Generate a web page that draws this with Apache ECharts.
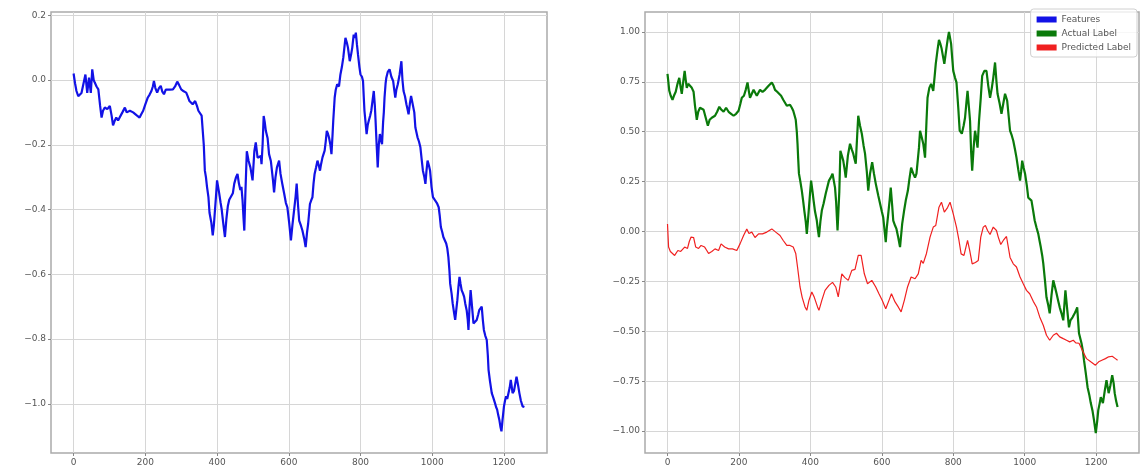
<!DOCTYPE html>
<html>
<head>
<meta charset="utf-8">
<title>Features vs Labels</title>
<script src="https://cdn.jsdelivr.net/npm/echarts@6/dist/echarts.min.js"></script>
<style>
  html, body { margin: 0; padding: 0; background: #ffffff; }
  #chart { width: 1145px; height: 474px; }
</style>
</head>
<body>
<div id="chart"></div>
<script>
// ---- Data ----------------------------------------------------------------
// Features (left panel): sample index and value
const featuresIdx = [0,4,8,13,18,22,27,33,38,43,48,52,56,59,64,69,74,78,82,87,94,101,106,110,115,119,124,129,136,143,148,152,157,161,166,170,177,184,189,194,200,207,212,217,221,224,228,233,238,243,247,252,257,261,268,277,283,289,294,300,307,314,318,323,328,332,336,339,344,348,353,357,360,363,366,369,372,376,379,384,388,391,393,397,400,403,406,410,413,417,422,426,430,434,439,444,448,453,457,461,465,468,471,474,476,479,483,488,493,496,499,504,508,513,518,522,524,527,530,533,536,541,545,550,552,556,559,563,567,573,577,582,587,592,596,601,606,610,615,619,622,626,629,634,638,643,647,651,654,659,663,666,669,672,676,680,684,687,690,694,700,703,706,709,712,716,719,722,724,728,731,735,740,744,748,752,755,758,762,765,768,770,774,777,781,784,787,790,793,797,800,804,807,809,811,814,817,820,823,827,830,834,837,840,842,845,848,851,854,857,860,863,865,867,870,872,876,881,886,891,894,897,900,904,909,914,917,920,924,928,931,934,938,941,946,950,953,959,963,967,971,974,978,981,984,987,991,994,998,1002,1008,1013,1018,1021,1024,1028,1031,1035,1039,1042,1045,1048,1050,1054,1057,1061,1064,1067,1070,1073,1076,1079,1082,1086,1089,1092,1096,1099,1101,1104,1107,1111,1115,1119,1124,1128,1131,1135,1138,1141,1144,1148,1152,1155,1157,1161,1166,1170,1175,1178,1181,1184,1187,1190,1193,1196,1200,1203,1206,1209,1212,1216,1219,1222,1224,1228,1231,1235,1239,1243,1247,1252,1257];
const featuresVal = [0.02,-0.01,-0.034,-0.05,-0.054,-0.04,-0.034,0.017,-0.04,0.007,-0.04,0.033,0.0,-0.008,-0.02,-0.029,-0.08,-0.116,-0.095,-0.085,-0.09,-0.08,-0.11,-0.14,-0.125,-0.116,-0.125,-0.121,-0.1,-0.085,-0.1,-0.106,-0.095,-0.09,-0.1,-0.106,-0.11,-0.116,-0.105,-0.095,-0.075,-0.054,-0.045,-0.034,-0.02,-0.003,-0.025,-0.039,-0.025,-0.018,-0.035,-0.044,-0.03,-0.024,-0.03,-0.029,-0.02,-0.005,-0.015,-0.029,-0.035,-0.039,-0.05,-0.065,-0.07,-0.075,-0.07,-0.065,-0.08,-0.095,-0.1,-0.11,-0.116,-0.2,-0.28,-0.30,-0.33,-0.362,-0.41,-0.44,-0.48,-0.45,-0.42,-0.36,-0.31,-0.33,-0.35,-0.38,-0.40,-0.44,-0.485,-0.43,-0.39,-0.37,-0.37,-0.35,-0.32,-0.30,-0.29,-0.32,-0.34,-0.33,-0.37,-0.43,-0.465,-0.35,-0.22,-0.25,-0.27,-0.29,-0.31,-0.22,-0.193,-0.24,-0.239,-0.235,-0.26,-0.2,-0.111,-0.13,-0.157,-0.18,-0.229,-0.25,-0.27,-0.31,-0.347,-0.3,-0.27,-0.249,-0.29,-0.321,-0.35,-0.38,-0.393,-0.44,-0.495,-0.45,-0.40,-0.36,-0.32,-0.39,-0.434,-0.45,-0.465,-0.49,-0.516,-0.47,-0.444,-0.383,-0.37,-0.362,-0.32,-0.29,-0.27,-0.249,-0.265,-0.28,-0.26,-0.239,-0.218,-0.19,-0.157,-0.165,-0.177,-0.2,-0.229,-0.17,-0.126,-0.054,-0.03,-0.013,-0.02,0.017,0.04,0.069,0.1,0.13,0.115,0.10,0.075,0.058,0.08,0.10,0.14,0.13,0.146,0.11,0.079,0.04,0.017,0.01,-0.003,-0.05,-0.095,-0.13,-0.167,-0.14,-0.126,-0.11,-0.095,-0.06,-0.034,-0.08,-0.126,-0.2,-0.27,-0.2,-0.167,-0.185,-0.198,-0.13,-0.10,-0.054,-0.01,0.007,0.025,0.033,0.01,-0.003,-0.03,-0.054,-0.03,-0.013,0.017,0.058,0.0,-0.034,-0.05,-0.075,-0.09,-0.106,-0.07,-0.049,-0.044,-0.1,-0.147,-0.177,-0.19,-0.208,-0.25,-0.28,-0.30,-0.321,-0.28,-0.249,-0.265,-0.28,-0.33,-0.362,-0.372,-0.38,-0.393,-0.42,-0.454,-0.47,-0.485,-0.49,-0.505,-0.52,-0.547,-0.59,-0.629,-0.66,-0.69,-0.72,-0.741,-0.71,-0.68,-0.64,-0.608,-0.63,-0.649,-0.66,-0.67,-0.69,-0.711,-0.74,-0.772,-0.70,-0.649,-0.7,-0.752,-0.75,-0.741,-0.725,-0.711,-0.705,-0.70,-0.74,-0.772,-0.79,-0.803,-0.85,-0.895,-0.93,-0.967,-0.98,-0.998,-1.01,-1.018,-1.035,-1.049,-1.07,-1.085,-1.05,-1.008,-0.99,-0.977,-0.985,-0.988,-0.95,-0.926,-0.95,-0.967,-0.96,-0.957,-0.916,-0.94,-0.967,-0.99,-1.008,-1.01];

// Actual label (right panel, green)
const actualIdx = [0,5,9,14,18,23,28,33,37,40,44,48,51,54,58,63,68,73,77,82,86,91,96,101,107,113,118,124,128,133,139,145,151,157,164,171,178,185,192,199,204,208,214,219,224,228,231,236,241,246,250,255,259,266,273,278,283,288,292,297,301,307,312,318,324,329,334,338,343,348,352,356,359,362,364,366,368,372,376,380,383,387,390,393,396,399,402,406,409,413,418,421,424,428,432,437,443,446,452,457,462,466,469,472,476,478,481,484,488,492,496,499,505,511,516,520,524,527,531,534,539,544,549,553,558,562,567,573,578,583,590,595,600,604,608,611,614,618,622,625,629,632,637,641,646,651,654,657,662,667,673,677,682,688,693,697,700,704,707,712,716,721,725,728,733,738,744,748,751,756,760,764,767,771,775,778,781,785,788,791,794,797,800,805,809,814,818,821,824,829,833,837,840,844,847,850,853,857,861,865,868,872,877,881,887,893,898,903,908,912,917,921,924,930,935,940,945,951,955,959,964,968,973,977,982,987,990,993,997,1001,1006,1010,1015,1019,1024,1028,1033,1038,1042,1045,1049,1052,1057,1061,1066,1070,1075,1080,1085,1089,1094,1098,1103,1108,1111,1114,1119,1124,1128,1134,1140,1144,1147,1152,1159,1163,1166,1171,1176,1181,1185,1190,1194,1199,1203,1206,1210,1213,1219,1224,1229,1235,1240,1245,1249,1252,1256,1260];
const actualVal = [0.79,0.705,0.68,0.66,0.68,0.70,0.74,0.77,0.72,0.69,0.75,0.805,0.76,0.72,0.74,0.73,0.72,0.70,0.63,0.56,0.6,0.62,0.62,0.61,0.57,0.53,0.56,0.57,0.56,0.58,0.6,0.625,0.61,0.60,0.62,0.60,0.59,0.58,0.59,0.605,0.64,0.67,0.68,0.71,0.747,0.70,0.67,0.69,0.71,0.70,0.68,0.69,0.71,0.70,0.71,0.72,0.73,0.74,0.747,0.73,0.71,0.70,0.70,0.68,0.66,0.645,0.63,0.64,0.635,0.62,0.605,0.58,0.56,0.50,0.44,0.36,0.29,0.25,0.205,0.15,0.105,0.05,-0.012,0.05,0.12,0.19,0.255,0.2,0.155,0.1,0.055,0.01,-0.028,0.05,0.105,0.14,0.19,0.19,0.255,0.27,0.29,0.25,0.22,0.15,0.005,0.005,0.2,0.405,0.38,0.355,0.31,0.27,0.38,0.44,0.41,0.39,0.36,0.34,0.48,0.58,0.53,0.49,0.43,0.39,0.30,0.205,0.29,0.347,0.29,0.24,0.18,0.14,0.10,0.07,0.0,-0.053,0.02,0.088,0.16,0.22,0.13,0.055,0.03,0.013,-0.03,-0.078,-0.02,0.038,0.1,0.155,0.205,0.26,0.32,0.29,0.27,0.29,0.30,0.42,0.505,0.47,0.44,0.37,0.55,0.67,0.72,0.74,0.705,0.78,0.84,0.91,0.96,0.94,0.92,0.88,0.84,0.88,0.92,0.97,1.0,0.97,0.94,0.87,0.805,0.77,0.747,0.62,0.505,0.50,0.49,0.53,0.57,0.65,0.705,0.62,0.555,0.40,0.305,0.42,0.505,0.46,0.42,0.55,0.67,0.78,0.805,0.805,0.73,0.67,0.72,0.77,0.847,0.75,0.69,0.64,0.59,0.64,0.69,0.655,0.58,0.505,0.48,0.455,0.41,0.37,0.31,0.255,0.3,0.355,0.32,0.29,0.23,0.17,0.16,0.155,0.1,0.055,0.02,-0.012,-0.05,-0.078,-0.12,-0.16,-0.25,-0.33,-0.37,-0.41,-0.32,-0.245,-0.28,-0.31,-0.35,-0.38,-0.41,-0.445,-0.37,-0.295,-0.39,-0.48,-0.445,-0.43,-0.41,-0.395,-0.38,-0.51,-0.56,-0.6,-0.645,-0.71,-0.78,-0.82,-0.86,-0.9,-0.945,-1.01,-0.95,-0.895,-0.86,-0.83,-0.86,-0.8,-0.745,-0.81,-0.77,-0.72,-0.76,-0.81,-0.85,-0.88];

// Predicted label (right panel, red)
const predictedIdx = [0,3,8,12,20,29,37,48,56,61,66,73,79,87,94,104,110,115,124,133,143,150,160,171,182,194,203,213,222,228,236,245,255,266,278,285,292,303,315,324,334,343,352,359,364,371,377,385,390,396,404,411,420,424,432,441,452,462,471,478,488,496,506,516,525,534,542,551,560,572,583,592,601,611,620,627,637,646,654,663,672,682,693,702,710,716,725,735,744,751,760,767,775,784,791,800,809,816,822,830,840,846,853,862,870,877,884,890,896,903,912,917,921,926,933,940,949,959,968,977,987,996,1005,1014,1024,1033,1042,1052,1061,1070,1080,1089,1098,1108,1117,1126,1136,1143,1152,1164,1173,1185,1198,1207,1216,1226,1235,1245,1254,1260];
const predictedVal = [0.038,-0.078,-0.1,-0.11,-0.12,-0.095,-0.10,-0.078,-0.085,-0.05,-0.028,-0.03,-0.078,-0.085,-0.07,-0.078,-0.095,-0.11,-0.10,-0.087,-0.095,-0.062,-0.078,-0.087,-0.087,-0.095,-0.062,-0.02,0.013,-0.01,-0.003,-0.03,-0.012,-0.012,-0.003,0.005,0.013,-0.003,-0.02,-0.045,-0.07,-0.07,-0.078,-0.11,-0.178,-0.278,-0.33,-0.378,-0.395,-0.345,-0.303,-0.33,-0.378,-0.395,-0.345,-0.295,-0.27,-0.255,-0.278,-0.328,-0.212,-0.23,-0.245,-0.195,-0.19,-0.12,-0.12,-0.212,-0.262,-0.245,-0.278,-0.312,-0.345,-0.387,-0.345,-0.312,-0.353,-0.378,-0.403,-0.345,-0.278,-0.228,-0.237,-0.212,-0.145,-0.16,-0.11,-0.028,0.022,0.03,0.122,0.147,0.097,0.12,0.147,0.088,0.022,-0.045,-0.112,-0.12,-0.045,-0.095,-0.162,-0.155,-0.145,-0.028,0.022,0.03,0.005,-0.015,0.022,0.022,0.005,-0.028,-0.065,-0.045,-0.025,-0.13,-0.162,-0.178,-0.228,-0.262,-0.295,-0.312,-0.35,-0.378,-0.428,-0.47,-0.52,-0.545,-0.52,-0.51,-0.528,-0.537,-0.545,-0.553,-0.545,-0.558,-0.56,-0.605,-0.637,-0.653,-0.67,-0.653,-0.645,-0.637,-0.628,-0.625,-0.637,-0.645];

// Tick positions
const xTicks = [0, 200, 400, 600, 800, 1000, 1200];
const leftYTicks = [-1.0, -0.8, -0.6, -0.4, -0.2, 0.0, 0.2];
const rightYTicks = [-1.0, -0.75, -0.5, -0.25, 0.0, 0.25, 0.5, 0.75, 1.0];
const legendNames = ['Features', 'Actual Label', 'Predicted Label'];

// ---- Helpers -------------------------------------------------------------
const zip = (xs, ys) => xs.map((x, i) => [x, ys[i]]);
const minusSign = s => s.replace('-', '\u2212');

const labelStyle = { color: '#555', fontSize: 9, fontFamily: 'DejaVu Sans' };
const gridLine = { show: true, lineStyle: { color: '#d6d6d6', width: 1 } };
const tickStyle = { show: true, length: 3, lineStyle: { color: '#888' } };
// Axes sit on the frame edges, not on the zero lines
const hiddenAxisLine = { show: false, onZero: false };

function xAxisFor(gridIndex) {
  return {
    type: 'value', gridIndex, min: -63, max: 1320,
    axisLine: hiddenAxisLine,
    axisTick: Object.assign({ customValues: xTicks }, tickStyle),
    axisLabel: Object.assign({ customValues: xTicks, margin: 5, formatter: v => String(Math.round(v)) }, labelStyle),
    splitLine: gridLine
  };
}

const chart = echarts.init(document.getElementById('chart'), null, { renderer: 'canvas' });

chart.setOption({
  animation: false,
  backgroundColor: '#ffffff',
  grid: [
    { left: 51, top: 12, width: 496, height: 441, show: true, borderColor: '#ababab', borderWidth: 1.5, backgroundColor: 'transparent' },
    { left: 645, top: 12, width: 494, height: 441, show: true, borderColor: '#ababab', borderWidth: 1.5, backgroundColor: 'transparent' }
  ],
  xAxis: [xAxisFor(0), xAxisFor(1)],
  yAxis: [
    {
      type: 'value', gridIndex: 0, min: -1.152, max: 0.21,
      axisLine: hiddenAxisLine,
      axisTick: Object.assign({ customValues: leftYTicks }, tickStyle),
      axisLabel: Object.assign({ customValues: leftYTicks, margin: 5, formatter: v => minusSign(v.toFixed(1)) }, labelStyle),
      splitLine: gridLine
    },
    {
      type: 'value', gridIndex: 1, min: -1.11, max: 1.10,
      axisLine: hiddenAxisLine,
      axisTick: Object.assign({ customValues: rightYTicks }, tickStyle),
      axisLabel: Object.assign({ customValues: rightYTicks, margin: 5, formatter: v => minusSign(v.toFixed(2)) }, labelStyle),
      splitLine: gridLine
    }
  ],
  legend: {
    data: legendNames,
    orient: 'vertical',
    right: 8, top: 9,
    icon: 'rect',
    itemWidth: 20, itemHeight: 6, itemGap: 5,
    padding: [6, 6, 5, 6],
    borderColor: '#d0d0d0', borderWidth: 1, borderRadius: 3,
    backgroundColor: 'rgba(255,255,255,0.8)',
    textStyle: { color: '#555', fontSize: 9, fontFamily: 'DejaVu Sans' },
    selectedMode: false
  },
  series: [
    {
      name: 'Features', type: 'line', xAxisIndex: 0, yAxisIndex: 0,
      data: zip(featuresIdx, featuresVal), showSymbol: false,
      lineStyle: { color: '#1212e6', width: 2.2 }, itemStyle: { color: '#1212e6' }
    },
    {
      name: 'Actual Label', type: 'line', xAxisIndex: 1, yAxisIndex: 1,
      data: zip(actualIdx, actualVal), showSymbol: false,
      lineStyle: { color: '#0a7a0a', width: 2.2 }, itemStyle: { color: '#0a7a0a' }
    },
    {
      name: 'Predicted Label', type: 'line', xAxisIndex: 1, yAxisIndex: 1,
      data: zip(predictedIdx, predictedVal), showSymbol: false,
      lineStyle: { color: '#f02020', width: 1.2 }, itemStyle: { color: '#f02020' }
    }
  ]
});
</script>
</body>
</html>
